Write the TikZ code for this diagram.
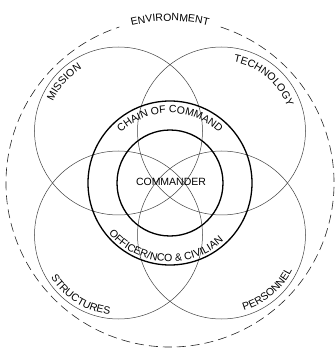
\documentclass[tikz,border=0pt]{standalone}
\usepackage{fontspec}
\setmainfont{Liberation Sans}
\usetikzlibrary{decorations.text}

\tikzset{
  ring/.style={draw=black!75, line width=0.5pt},
  heavyring/.style={draw=black, line width=1.3pt},
  envring/.style={draw=black!85, line width=0.6pt, dash pattern=on 9pt off 5pt},
  arctext/.style={decorate, decoration={text along path, text align=center,
    text={|\fontsize{10.5}{12}\selectfont|#1}}}
}

\begin{document}
\begin{tikzpicture}[x=1pt,y=1pt]
\useasboundingbox (0,0) rectangle (335,349);
\coordinate (cc) at (170,166);
\coordinate (mis) at (118.5,218);
\coordinate (tec) at (221.5,218);
\coordinate (str) at (118.5,114);
\coordinate (per) at (221.5,114);
\draw[envring] (cc) ++(72:164) arc[start angle=72, end angle=-252, radius=164];
\draw[ring] (mis) circle[radius=84];
\draw[ring] (tec) circle[radius=84];
\draw[ring] (str) circle[radius=84];
\draw[ring] (per) circle[radius=84];
\draw[heavyring] (cc) circle[radius=82];
\draw[heavyring] (cc) circle[radius=53];
\node (cmdr) at (171,167) {\fontsize{10.5}{12}\selectfont COMMANDER};
\path[arctext=ENVIRONMENT] ([shift={(cc)}]110:162) arc[start angle=110, end angle=70, radius=162];
\path[arctext={CHAIN OF COMMAND}] ([shift={(cc)}]148:70) arc[start angle=148, end angle=32, radius=70];
\path[arctext={OFFICER/NCO {\&} CIVILIAN}] ([shift={(cc)}]200:79) arc[start angle=200, end angle=332, radius=79];
\path[arctext=MISSION] ([shift={(mis)}]170:72) arc[start angle=170, end angle=106, radius=72];
\path[arctext=TECHNOLOGY] ([shift={(tec)}]88:70) arc[start angle=88, end angle=12, radius=70];
\path[arctext=STRUCTURES] ([shift={(str)}]198:80) arc[start angle=198, end angle=278, radius=80];
\path[arctext=PERSONNEL] ([shift={(per)}]272:79) arc[start angle=272, end angle=348, radius=79];
\end{tikzpicture}
\end{document}
